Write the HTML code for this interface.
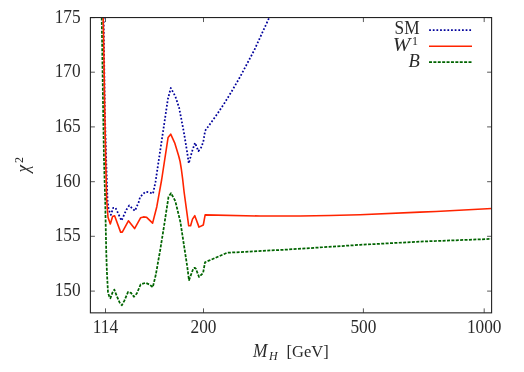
<!DOCTYPE html>
<html><head><meta charset="utf-8"><style>
html,body{margin:0;padding:0;background:#fff;}
#w{position:relative;width:524px;height:372px;overflow:hidden;background:#fff;}
svg{display:block;position:absolute;left:0;top:0;}
#t{filter:grayscale(1);}
text{font-family:"Liberation Serif",serif;font-size:17.3px;fill:#2a2a2a;}
</style></head><body><div id="w">
<svg width="524" height="372" viewBox="0 0 524 372">
<clipPath id="c"><rect x="90.4" y="17.55" width="401.20000000000005" height="295.3"/></clipPath>
<g clip-path="url(#c)" fill="none" stroke-linejoin="round" stroke-width="1.75">
<polyline points="103.60,17.50 104.80,110.00 106.20,160.00 107.50,200.00 108.60,209.20 110.90,214.90 113.20,207.80 115.50,207.80 121.50,220.60 126.40,209.70 129.20,205.50 134.90,210.90 138.90,201.70 140.00,197.20 145.30,191.80 149.00,192.30 153.00,193.70 155.50,181.90 163.30,130.00 167.90,99.00 170.80,88.00 175.30,96.30 179.10,107.70 182.80,126.70 184.30,134.80 187.20,152.50 188.80,163.40 191.90,152.00 195.00,142.80 198.40,151.20 201.00,147.80 203.20,142.20 204.40,135.30 205.10,130.80 211.00,122.70 217.80,113.20 224.50,103.00 231.40,91.90 240.40,76.30 254.00,50.70 269.30,17.50" stroke="#00009b" stroke-dasharray="1.75 1.9"/>
<polyline points="101.70,17.50 102.40,60.00 103.00,102.00 104.00,160.00 105.20,200.00 106.20,250.00 106.90,272.00 108.00,292.60 109.30,296.50 110.40,298.30 112.50,292.50 114.30,289.60 116.70,295.80 119.60,302.50 121.80,305.20 124.40,300.60 128.10,291.90 131.00,292.90 133.90,296.70 136.80,293.50 140.65,284.40 145.60,282.80 149.20,284.40 152.80,287.20 155.80,274.80 160.20,250.00 163.90,227.00 168.50,197.00 171.00,193.20 175.30,201.00 180.40,222.00 184.70,250.00 187.30,267.00 189.00,280.20 193.40,268.30 194.70,267.80 195.80,268.60 199.05,277.00 203.10,273.00 205.00,262.30 227.20,252.75 285.00,249.70 360.00,244.85 420.00,241.60 436.00,241.00 491.70,238.90" stroke="#006400" stroke-dasharray="3.0 1.39"/>
<polyline points="103.20,17.50 104.00,60.00 104.60,102.00 105.70,160.00 106.70,200.00 108.00,217.20 110.30,224.00 112.60,216.60 114.60,215.80 120.60,232.10 122.30,232.10 128.40,220.80 134.60,228.60 140.70,217.70 143.50,216.90 146.40,217.20 152.60,223.10 156.80,206.70 161.60,180.00 168.10,137.40 170.70,134.20 174.90,143.40 178.70,156.00 180.10,161.50 181.40,169.50 182.60,178.60 184.10,192.00 188.70,225.80 190.60,225.80 192.50,219.10 194.80,215.70 199.00,227.10 203.30,225.00 205.15,214.90 260.00,216.05 300.00,216.05 330.00,215.50 360.00,214.70 420.00,212.10 436.00,211.45 491.70,208.55" stroke="#ff2400" stroke-width="1.6"/>
</g>
<g stroke="#222" stroke-width="1.1" fill="none">
<rect x="90.4" y="17.55" width="401.20000000000005" height="295.3"/>
<g stroke-width="0.75">
<line x1="105.5" y1="312.85" x2="105.5" y2="308.35"/><line x1="105.5" y1="17.55" x2="105.5" y2="22.05"/>
<line x1="203.5" y1="312.85" x2="203.5" y2="308.35"/><line x1="203.5" y1="17.55" x2="203.5" y2="22.05"/>
<line x1="363.4" y1="312.85" x2="363.4" y2="308.35"/><line x1="363.4" y1="17.55" x2="363.4" y2="22.05"/>
<line x1="484.2" y1="312.85" x2="484.2" y2="308.35"/><line x1="484.2" y1="17.55" x2="484.2" y2="22.05"/>
<line x1="90.4" y1="291.1" x2="94.9" y2="291.1"/><line x1="491.6" y1="291.1" x2="487.1" y2="291.1"/>
<line x1="90.4" y1="236.3" x2="94.9" y2="236.3"/><line x1="491.6" y1="236.3" x2="487.1" y2="236.3"/>
<line x1="90.4" y1="181.7" x2="94.9" y2="181.7"/><line x1="491.6" y1="181.7" x2="487.1" y2="181.7"/>
<line x1="90.4" y1="126.9" x2="94.9" y2="126.9"/><line x1="491.6" y1="126.9" x2="487.1" y2="126.9"/>
<line x1="90.4" y1="72.2" x2="94.9" y2="72.2"/><line x1="491.6" y1="72.2" x2="487.1" y2="72.2"/>
<line x1="90.4" y1="17.6" x2="94.9" y2="17.6"/><line x1="491.6" y1="17.6" x2="487.1" y2="17.6"/>
</g></g>
<g fill="none" stroke-width="1.75">
<line x1="429.15" y1="30.15" x2="471.5" y2="30.15" stroke="#00009b" stroke-dasharray="1.75 1.9"/>
<line x1="429.0" y1="46.22" x2="472.0" y2="46.22" stroke="#ff2400" stroke-width="1.6"/>
<line x1="429.0" y1="62.0" x2="472.0" y2="62.0" stroke="#006400" stroke-dasharray="3.0 1.39"/>
</g>
</svg>
<svg id="t" width="524" height="372" viewBox="0 0 524 372">
<text transform="translate(80.6,295.9) scale(1.0,1.07)" text-anchor="end">150</text>
<text transform="translate(80.6,241.2) scale(1.0,1.07)" text-anchor="end">155</text>
<text transform="translate(80.6,186.6) scale(1.0,1.07)" text-anchor="end">160</text>
<text transform="translate(80.6,131.8) scale(1.0,1.07)" text-anchor="end">165</text>
<text transform="translate(80.6,77.2) scale(1.0,1.07)" text-anchor="end">170</text>
<text transform="translate(80.6,22.5) scale(1.0,1.07)" text-anchor="end">175</text>
<text transform="translate(105.5,333.3) scale(1.0,1.07)" text-anchor="middle">114</text>
<text transform="translate(203.5,333.3) scale(1.0,1.07)" text-anchor="middle">200</text>
<text transform="translate(363.4,333.3) scale(1.0,1.07)" text-anchor="middle">500</text>
<text transform="translate(484.2,333.3) scale(1.0,1.07)" text-anchor="middle">1000</text>

<text transform="translate(419.6,34.3) scale(1.0,1.07)" text-anchor="end">SM</text>

<text transform="translate(410.3,50.6) scale(1.22,1.07)" text-anchor="end" font-style="italic">W</text>

<text transform="translate(418,44.5) scale(1.0,1.07)" text-anchor="end" style="font-size:12px">1</text>

<text transform="translate(419.8,66.6) scale(1.0,1.07)" text-anchor="end" font-style="italic" style="font-size:18.5px">B</text>

<text transform="translate(253,357.1) scale(1.0,1.07)" text-anchor="start" font-style="italic">M</text>

<text transform="translate(269,360.1) scale(1.0,1.07)" text-anchor="start" font-style="italic" style="font-size:12px">H</text>

<text transform="translate(286.6,357.1) scale(1.0,1.07)" text-anchor="start" style="font-size:16.5px">[GeV]</text>

<g transform="translate(29.1,172.4) rotate(-90)">
<text transform="translate(0,0) scale(1.0,1.07)" text-anchor="start" font-style="italic">χ</text>

<text transform="translate(9.5,-6.3) scale(1.0,1.07)" text-anchor="start" style="font-size:12px">2</text>

</g>
</svg>
</div></body></html>
